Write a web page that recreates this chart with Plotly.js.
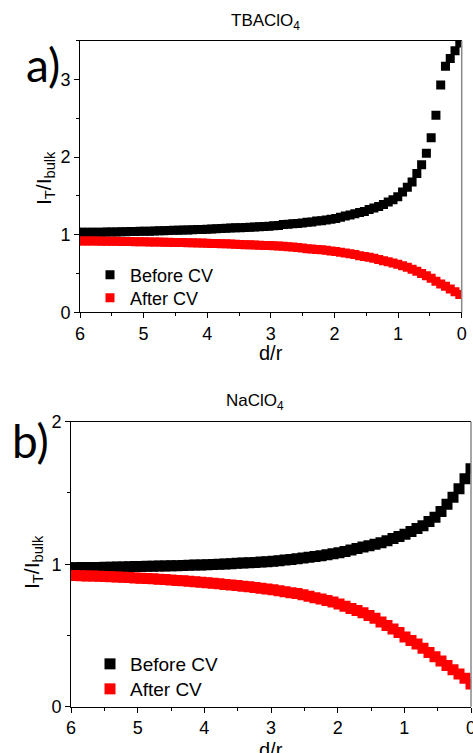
<!DOCTYPE html>
<html><head><meta charset="utf-8">
<script src="https://cdn.plot.ly/plotly-3.0.1.min.js"></script>
<style>html,body{margin:0;padding:0;background:#fff}#chart{width:473px;height:753px}</style>
</head><body><div id="chart"></div>
<script>
// ---- data (d/r vs normalised tip current) ----
const xTop = [0.03,0.105,0.18,0.255,0.33,0.405,0.48,0.555,0.63,0.705,
  0.78,0.855,0.93,1.005,1.08,1.155,1.23,1.305,1.38,1.455,
  1.53,1.605,1.68,1.755,1.83,1.905,1.98,2.055,2.13,2.205,
  2.28,2.355,2.43,2.505,2.58,2.655,2.73,2.805,2.88,2.955,
  3.03,3.105,3.18,3.255,3.33,3.405,3.48,3.555,3.63,3.705,
  3.78,3.855,3.93,4.005,4.08,4.155,4.23,4.305,4.38,4.455,
  4.53,4.605,4.68,4.755,4.83,4.905,4.98,5.055,5.13,5.205,
  5.28,5.355,5.43,5.505,5.58,5.655,5.73,5.805,5.88,5.955,6.03];
const beforeTop = [3.47,3.37,3.27,3.17,2.93,2.54,2.25,2.05,1.90,1.79,
  1.68,1.61,1.55,1.49,1.45,1.42,1.39,1.365,1.345,1.325,
  1.30,1.285,1.27,1.255,1.24,1.225,1.21,1.20,1.19,1.18,
  1.175,1.165,1.16,1.15,1.145,1.14,1.135,1.13,1.12,1.115,
  1.11,1.107,1.104,1.10,1.097,1.094,1.091,1.088,1.085,1.082,
  1.079,1.076,1.073,1.07,1.068,1.066,1.064,1.062,1.06,1.058,
  1.056,1.054,1.052,1.05,1.048,1.046,1.045,1.043,1.042,1.04,
  1.039,1.038,1.036,1.035,1.034,1.033,1.032,1.031,1.03,1.03,1.03];
const afterTop = [0.23,0.265,0.30,0.335,0.365,0.40,0.44,0.47,0.50,0.53,
  0.555,0.58,0.60,0.62,0.635,0.65,0.665,0.68,0.695,0.71,
  0.72,0.73,0.745,0.755,0.765,0.775,0.785,0.79,0.80,0.805,
  0.81,0.815,0.82,0.83,0.835,0.84,0.845,0.85,0.853,0.857,
  0.86,0.862,0.865,0.867,0.87,0.872,0.875,0.877,0.88,0.882,
  0.884,0.886,0.888,0.89,0.892,0.893,0.895,0.896,0.898,0.899,
  0.90,0.902,0.903,0.905,0.906,0.907,0.908,0.909,0.91,0.911,
  0.912,0.913,0.914,0.915,0.916,0.917,0.918,0.919,0.92,0.92,0.92];
const xBottom = [0,0.09,0.18,0.27,0.36,0.45,0.54,0.63,0.72,0.81,
  0.9,0.99,1.08,1.17,1.26,1.35,1.44,1.53,1.62,1.71,
  1.8,1.89,1.98,2.07,2.16,2.25,2.34,2.43,2.52,2.61,
  2.7,2.79,2.88,2.97,3.06,3.15,3.24,3.33,3.42,3.51,
  3.6,3.69,3.78,3.87,3.96,4.05,4.14,4.23,4.32,4.41,
  4.5,4.59,4.68,4.77,4.86,4.95,5.04,5.13,5.22,5.31,
  5.4,5.49,5.58,5.67,5.76,5.85,5.94,6.03];
const beforeBottom = [1.67,1.60,1.53,1.47,1.42,1.37,1.33,1.30,1.27,1.25,
  1.23,1.21,1.195,1.18,1.165,1.15,1.14,1.13,1.12,1.11,
  1.10,1.09,1.08,1.073,1.066,1.06,1.054,1.048,1.043,1.038,
  1.033,1.029,1.025,1.021,1.018,1.015,1.012,1.01,1.008,1.006,
  1.004,1.002,1.0,0.998,0.997,0.995,0.994,0.992,0.991,0.99,
  0.989,0.988,0.987,0.986,0.985,0.984,0.983,0.982,0.981,0.98,
  0.979,0.978,0.977,0.977,0.976,0.976,0.975,0.975];
const afterBottom = [0.16,0.20,0.23,0.26,0.29,0.32,0.35,0.38,0.41,0.44,
  0.465,0.49,0.52,0.545,0.57,0.595,0.62,0.64,0.66,0.675,
  0.69,0.705,0.72,0.735,0.745,0.755,0.765,0.775,0.785,0.795,
  0.80,0.807,0.814,0.82,0.826,0.831,0.836,0.841,0.846,0.85,
  0.854,0.858,0.862,0.866,0.87,0.874,0.877,0.88,0.883,0.886,
  0.889,0.892,0.895,0.898,0.90,0.902,0.904,0.906,0.908,0.91,
  0.912,0.914,0.916,0.917,0.918,0.919,0.92,0.92];
const seriesNames = ['Before CV', 'After CV'];
const panelTitles = ['TBAClO<sub>4</sub>', 'NaClO<sub>4</sub>'];
const panelLabels = ['a)', 'b)'];
const xTitle = 'd/r';
const yTitle = 'I<sub>T</sub>/I<sub>bulk</sub>';
const yRangeTop = [0, 3.5];
const yRangeBottom = [0, 2];

// ---- layout helpers ----
const W = 473, H = 753;
const px = v => v / W;
const py = v => 1 - v / H;
const FONT = 'Liberation Sans, Arial, sans-serif';

const mk = (x, y, color, size, name, xa, ya, leg) => ({
  x, y, name, type: 'scatter', mode: 'markers', xaxis: xa, yaxis: ya, legend: leg,
  marker: {symbol: 'square', color, size, line: {width: 0}}, cliponaxis: true
});

const data = [
  mk(xTop, beforeTop, '#000000', 9, seriesNames[0], 'x', 'y', 'legend'),
  mk(xTop, afterTop, '#ff0000', 9, seriesNames[1], 'x', 'y', 'legend2'),
  mk(xBottom, beforeBottom, '#000000', 11, seriesNames[0], 'x2', 'y2', 'legend3'),
  mk(xBottom, afterBottom, '#ff0000', 11, seriesNames[1], 'x2', 'y2', 'legend4')
];

const xAx = (dom, anchor) => ({
  domain: dom, anchor, range: [6, 0], tick0: 0, dtick: 1,
  ticks: 'outside', ticklen: 5, tickwidth: 1, tickcolor: '#000',
  minor: {dtick: 0.5, ticks: 'outside', ticklen: 3, tickwidth: 1, tickcolor: '#000', showgrid: false},
  showline: true, linecolor: '#000', linewidth: 1, mirror: true, ticklabeloverflow: 'allow',
  showgrid: false, zeroline: false, tickfont: {family: FONT, size: 18, color: '#000'}, fixedrange: true
});
const yAx = (dom, anchor, rng) => ({
  domain: dom, anchor, range: rng, tick0: 0, dtick: 1,
  ticks: 'outside', ticklen: 5, tickwidth: 1, tickcolor: '#000',
  minor: {dtick: 0.5, ticks: 'outside', ticklen: 3, tickwidth: 1, tickcolor: '#000', showgrid: false},
  showline: true, linecolor: '#000', linewidth: 1, mirror: false, ticklabeloverflow: 'allow',
  showgrid: false, zeroline: false, tickfont: {family: FONT, size: 18, color: '#000'}, fixedrange: true
});

const leg = (x, y, size) => ({
  x: px(x), xanchor: 'left', y: py(y), yanchor: 'middle', bgcolor: 'rgba(0,0,0,0)',
  font: {family: FONT, size, color: '#000'}, borderwidth: 0
});

const ann = (text, x, y, size, extra) => Object.assign({
  text, x: px(x), y: py(y), xref: 'paper', yref: 'paper', showarrow: false,
  xanchor: 'center', yanchor: 'middle', font: {family: FONT, size, color: '#000'}
}, extra || {});

const layout = {
  width: W, height: H, autosize: false,
  margin: {l: 0, r: 0, t: 0, b: 0, pad: 0},
  paper_bgcolor: '#fff', plot_bgcolor: '#fff',
  showlegend: true,
  xaxis: xAx([px(80), px(461.7)], 'y'),
  yaxis: yAx([py(312.3), py(40.7)], 'x', yRangeTop),
  xaxis2: xAx([px(71), px(471)], 'y2'),
  yaxis2: yAx([py(706.7), py(421.7)], 'x2', yRangeBottom),
  legend: leg(90, 275, 18),
  legend2: leg(90, 298, 18),
  legend3: leg(90, 664, 19),
  legend4: leg(90, 689, 19),
  shapes: [
    {type: 'line', xref: 'x domain', yref: 'y domain', x0: 1, x1: 1, y0: 0, y1: 1, line: {color: '#888', width: 1.5}},
    {type: 'line', xref: 'x2 domain', yref: 'y2 domain', x0: 1, x1: 1, y0: 0, y1: 1, line: {color: '#888', width: 1.5}}
  ],
  annotations: [
    ann(panelTitles[0], 265, 22, 17),
    ann(panelTitles[1], 255, 402, 17),
    ann(panelLabels[0], 43, 64, 44, {font: {family: 'Lato, sans-serif', size: 46, color: '#000'}}),
    ann(panelLabels[1], 30, 440, 44, {font: {family: 'Lato, sans-serif', size: 46, color: '#000'}}),
    ann(yTitle, 45, 178, 21, {textangle: -90}),
    ann(yTitle, 33, 562, 21, {textangle: -90}),
    ann(xTitle, 271, 353, 20),
    ann(xTitle, 271, 750, 20)
  ]
};

Plotly.newPlot('chart', data, layout, {staticPlot: true, displayModeBar: false});
</script>
</body></html>
